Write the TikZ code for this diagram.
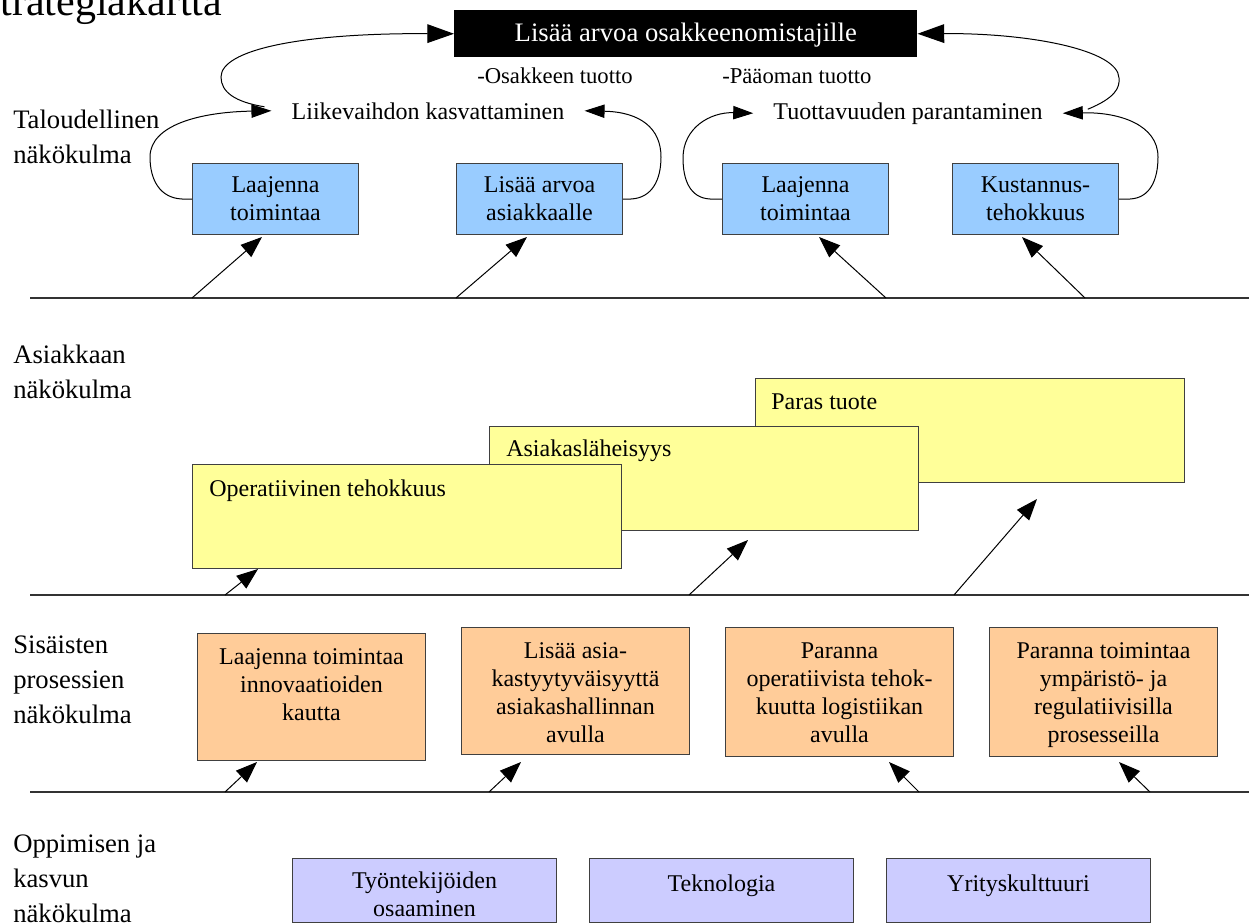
\documentclass[tikz,border=0pt]{standalone}
\usepackage{fontspec}
\setmainfont{Liberation Serif}
\usetikzlibrary{arrows.meta}

\definecolor{cBlue}{HTML}{99CCFF}
\definecolor{cYellow}{HTML}{FFFF99}
\definecolor{cOrange}{HTML}{FFCC99}
\definecolor{cPurple}{HTML}{CCCCFF}

\newcommand\fBox{\fontsize{18}{21}\selectfont}
\newcommand\fSide{\fontsize{20}{26.25}\selectfont}
\newcommand\fHead{\fontsize{20}{24}\selectfont}
\newcommand\fSmall{\fontsize{17}{20}\selectfont}
\newcommand\fTitle{\fontsize{31.5}{38}\selectfont}

\tikzset{
  boxframe/.style={draw=black!75, line width=0.75pt, inner sep=0pt, anchor=north west},
  bluebox/.style={boxframe, fill=cBlue, minimum width=124.5pt, minimum height=53.25pt,
                  align=center, font=\fBox},
  yellowbox/.style={boxframe, fill=cYellow, minimum width=321.75pt, minimum height=78pt},
  orangebox/.style={boxframe, fill=cOrange, minimum width=171pt},
  purplebox/.style={boxframe, fill=cPurple, minimum width=198pt, minimum height=48pt},
  blackbox/.style={fill=black, text=white, inner sep=0pt, anchor=north west,
                   minimum width=347.25pt, minimum height=35.25pt, font=\fHead,
                   text height=16pt, text depth=4.5pt},
  toptext/.style={anchor=north, inner sep=0pt, align=center, font=\fBox,
                  execute at begin node=\strut},
  cornertext/.style={anchor=base west, inner sep=0pt, font=\fBox},
  sidetext/.style={anchor=north west, inner sep=0pt, align=left, font=\fSide,
                   execute at begin node=\strut},
  goaltext/.style={anchor=base, font=\fBox, inner xsep=15pt, inner ysep=2pt},
  measuretext/.style={inner sep=0pt, font=\fSmall},
  bigarrow/.style={-{Triangle[length=20pt,width=14pt]}, line width=0.75pt},
  midarrow/.style={-{Triangle[length=15pt,width=10pt]}, line width=0.75pt},
  diagarrow/.style={-{Triangle[length=16pt,width=12pt]}, line width=0.75pt},
  divider/.style={draw=black!80, line width=1pt}
}

\begin{document}
\begin{tikzpicture}[x=0.75pt, y=-0.75pt]
\path[use as bounding box] (0,0) rectangle (1249,924);
\fill[white] (0,0) rectangle (1249,924);
\clip (0,0) rectangle (1249,924);

% title
\node[anchor=base west, inner sep=0pt, font=\fTitle] (title) at (-23,16) {Strategiakartta};

% perspective labels
\node[sidetext] (lblfin)  at (13,110) {Taloudellinen\\näkökulma};
\node[sidetext] (lblcust) at (13,345) {Asiakkaan\\näkökulma};
\node[sidetext] (lblproc) at (13,636) {Sisäisten\\prosessien\\näkökulma};
\node[sidetext] (lbllrn)  at (13,835) {Oppimisen ja\\kasvun\\näkökulma};

% dividers between perspectives
\coordinate (d1a) at (30,298);  \coordinate (d1b) at (1250,298);
\coordinate (d2a) at (30,595);  \coordinate (d2b) at (1250,595);
\coordinate (d3a) at (30,792);  \coordinate (d3b) at (1250,792);
\draw[divider] (d1a) -- (d1b);
\draw[divider] (d2a) -- (d2b);
\draw[divider] (d3a) -- (d3b);

% financial perspective
\node[blackbox] (top) at (454,10) {Lisää arvoa osakkeenomistajille};
\node[measuretext, anchor=base] (meas1) at (555,84) {-Osakkeen tuotto};
\node[measuretext, anchor=base west] (meas2) at (722,84) {-Pääoman tuotto};
\node[goaltext] (liike) at (428,119) {Liikevaihdon kasvattaminen};
\node[goaltext] (tuott) at (908,119) {Tuottavuuden parantaminen};

\node[bluebox] (laajA) at (192,163) {Laajenna\\toimintaa};
\node[bluebox] (lisa)  at (456,163) {Lisää arvoa\\asiakkaalle};
\node[bluebox] (laajB) at (722,163) {Laajenna\\toimintaa};
\node[bluebox] (kust)  at (952,163) {Kustannus-\\tehokkuus};

\draw[bigarrow] ([shift={(-7,-4)}]liike.west) .. controls (235,102) and (221,92) .. (221,77)
                .. controls (221,50) and (300,33) .. (top.west);
\draw[midarrow] (laajA.west) -- ++(-10,0) .. controls (160,198) and (150,180) .. (150,157)
                .. controls (150,125) and (200,112) .. (liike.west);
\draw[midarrow] (lisa.east) -- ++(8,0) .. controls (652,198) and (661,180) .. (661,157)
                .. controls (661,128) and (640,112) .. (liike.east);
\draw[midarrow] (laajB.west) -- ++(-12,0) .. controls (690,198) and (683,180) .. (683,158)
                .. controls (683,128) and (710,112) .. (tuott.west);
\draw[midarrow] (kust.east) -- ++(11,0) .. controls (1150,198) and (1158,180) .. (1158,157)
                .. controls (1158,125) and (1120,112) .. (tuott.east);
\draw[bigarrow] ([shift={(25,-4)}]tuott.east) .. controls (1115,98) and (1120,88) .. (1119,78)
                .. controls (1118,50) and (1030,33) .. (top.east);

\coordinate (fa1) at (192,298);
\coordinate (fa2) at (456,298);
\coordinate (fa3) at (886,298);
\coordinate (fa4) at (1085,298);
\draw[diagarrow] (fa1) -- ([shift={(70,2)}]laajA.south west);
\draw[diagarrow] (fa2) -- ([shift={(71,2)}]lisa.south west);
\draw[diagarrow] (fa3) -- ([shift={(-70,2)}]laajB.south east);
\draw[diagarrow] (fa4) -- ([shift={(-97,2)}]kust.south east);

% customer perspective
\node[yellowbox] (paras) at (755,378) {};
\node[cornertext] (parast) at ([shift={(16,31)}]paras.north west) {Paras tuote};
\node[yellowbox] (asiak) at (489,426) {};
\node[cornertext] (asiakt) at ([shift={(17,30)}]asiak.north west) {Asiakasläheisyys};
\node[yellowbox] (oper) at (192,464) {};
\node[cornertext] (opert) at ([shift={(17,32)}]oper.north west) {Operatiivinen tehokkuus};

\coordinate (fb1) at (225,595);
\coordinate (fb2) at (689,595);
\coordinate (fb3) at (954,595);
\draw[diagarrow] (fb1) -- ([shift={(66,0)}]oper.south west);
\draw[diagarrow] (fb2) -- ([shift={(259,9)}]asiak.south west);
\draw[diagarrow] (fb3) -- ([shift={(282,16)}]paras.south west);

% internal process perspective
\node[orangebox, minimum height=95.25pt] (proc1) at (197,633) {};
\node[orangebox, minimum height=95.25pt] (proc2) at (461,627) {};
\node[orangebox, minimum height=96.75pt] (proc3) at (725,627) {};
\node[orangebox, minimum height=96.75pt] (proc4) at (989,627) {};
\node[toptext] (proc1t) at ([yshift=-11.5pt]proc1.north) {Laajenna toimintaa\\innovaatioiden\\kautta};
\node[toptext] (proc2t) at ([yshift=-11.5pt]proc2.north) {Lisää asia-\\kastyytyväisyyttä\\asiakashallinnan\\avulla};
\node[toptext] (proc3t) at ([yshift=-11.5pt]proc3.north) {Paranna\\operatiivista tehok-\\kuutta logistiikan\\avulla};
\node[toptext] (proc4t) at ([yshift=-11.5pt]proc4.north) {Paranna toimintaa\\ympäristö- ja\\regulatiivisilla\\prosesseilla};

\coordinate (fc1) at (225,792);
\coordinate (fc2) at (489,792);
\coordinate (fc3) at (919,792);
\coordinate (fc4) at (1150,792);
\draw[diagarrow] (fc1) -- ([shift={(60,1)}]proc1.south west);
\draw[diagarrow] (fc2) -- ([shift={(60,7)}]proc2.south west);
\draw[diagarrow] (fc3) -- ([shift={(-65,5)}]proc3.south east);
\draw[diagarrow] (fc4) -- ([shift={(-99,5)}]proc4.south east);

% learning and growth perspective
\node[purplebox] (lrn1) at (292,858) {};
\node[purplebox] (lrn2) at (589,858) {};
\node[purplebox] (lrn3) at (886,858) {};
\node[toptext] (lrn1t) at ([yshift=-10pt]lrn1.north) {Työntekijöiden\\osaaminen};
\node[toptext] (lrn2t) at ([yshift=-10pt]lrn2.north) {Teknologia};
\node[toptext] (lrn3t) at ([yshift=-10pt]lrn3.north) {Yrityskulttuuri};
\end{tikzpicture}
\end{document}
